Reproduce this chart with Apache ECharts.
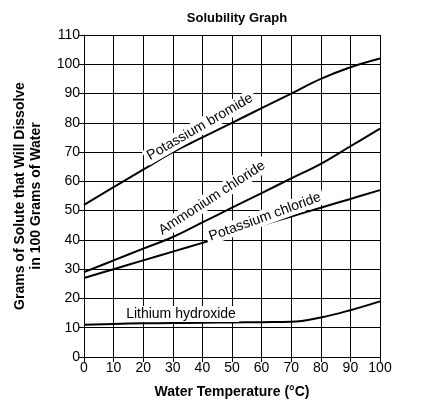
<!DOCTYPE html>
<html><head><meta charset="utf-8">
<script src="https://cdn.jsdelivr.net/npm/echarts@6/dist/echarts.min.js"></script>
<style>html,body{margin:0;background:#fff}#c{width:442px;height:419px}</style>
</head><body><div id="c"></div>
<script>
const temps = [0,10,20,30,40,50,60,70,80,90,100];
const potassiumBromide = [52,58,64,70,75,80,85,90,95,99,102];
const ammoniumChloride = [29,33,37,41,46,51,56,61,66,72,78];
const potassiumChloride = [27,30,33,36,39,42,45,48,51,54,57];
const lithiumHydroxide = [11,11.3,11.5,11.6,11.7,11.8,11.9,12,13.5,16,19];

const font = 'Liberation Sans, Arial, sans-serif';
const chart = echarts.init(document.getElementById('c'));
const mk = d => ({type:'line', smooth:0.4, symbol:'none', data: temps.map((t,i)=>[t,d[i]]), lineStyle:{color:'#000',width:2}});
const lbl = (text,x,y,rot,bg) => ({type:'text', x, y, rotation: rot*Math.PI/180, style:{text, font:'14px '+font, fill:'#000', align:'center', verticalAlign:'middle', backgroundColor: bg?'#fff':null, padding:bg?[1,3]:0}, z:100});
chart.setOption({
  animation:false,
  title:{text:'Solubility Graph', left:232, textAlign:'center', top:7, textStyle:{fontFamily:font,fontSize:13,fontWeight:'bold',color:'#000'}},
  grid:{left:84, right:62, top:35, bottom:62},
  xAxis:{type:'value', min:0, max:100, interval:10, name:'Water Temperature (°C)', nameLocation:'middle', nameGap:28,
    nameTextStyle:{fontFamily:font,fontSize:14,fontWeight:'bold',color:'#000'},
    axisLine:{lineStyle:{color:'#000'}}, axisTick:{lineStyle:{color:'#000'}},
    axisLabel:{fontFamily:font,fontSize:14,color:'#000',margin:4}, splitLine:{lineStyle:{color:'#000',width:1}}},
  yAxis:{type:'value', min:0, max:110, interval:10, name:'Grams of Solute that Will Dissolve\nin 100 Grams of Water', nameLocation:'middle', nameGap:40,
    nameTextStyle:{fontFamily:font,fontSize:14,fontWeight:'bold',color:'#000',lineHeight:16},
    axisLine:{show:true,lineStyle:{color:'#000'}}, axisTick:{show:true,lineStyle:{color:'#000'}},
    axisLabel:{fontFamily:font,fontSize:14,color:'#000',margin:4}, splitLine:{lineStyle:{color:'#000',width:1}}},
  series:[mk(potassiumBromide), mk(ammoniumChloride), mk(potassiumChloride), mk(lithiumHydroxide)],
  graphic:[
    lbl('Potassium bromide',200,127,30,true),
    lbl('Ammonium chloride',212,198,33,true),
    lbl('Potassium chloride',265,217,20,true),
    lbl('Lithium hydroxide',181,314,0,true)
  ]
});
</script></body></html>
